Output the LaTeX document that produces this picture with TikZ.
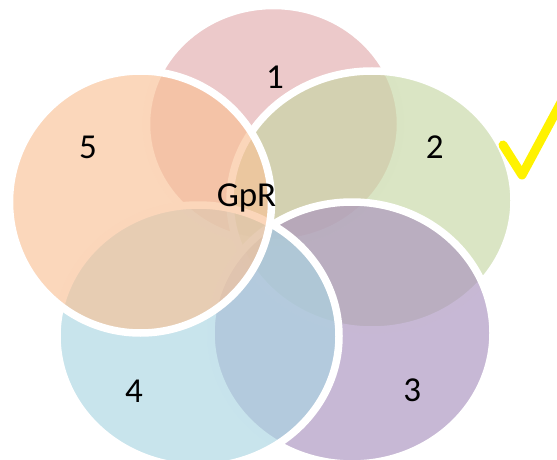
\documentclass[tikz,border=0pt]{standalone}
\usepackage{fontspec}
\setmainfont{Carlito}
\definecolor{petalone}{RGB}{226,172,173}
\definecolor{petaltwo}{RGB}{198,215,164}
\definecolor{petalthree}{RGB}{169,146,190}
\definecolor{petalfour}{RGB}{170,213,226}
\definecolor{petalfive}{RGB}{249,193,150}
\begin{document}
\begin{tikzpicture}[x=1pt,y=-1pt,
  every node/.style={font=\fontsize{35}{42}\selectfont,anchor=base,inner sep=0pt},
  petal/.style={draw=white,line width=7.5pt,fill opacity=0.65}]
  \useasboundingbox (0,0) rectangle (557,460);
  \clip (0,0) rectangle (557,460);
  % petals, drawn in turn so the later ones lie on top
  \filldraw[petal,fill=petalone] (273.5,124) ellipse [x radius=127pt,y radius=118.5pt];
  \filldraw[petal,fill=petaltwo] (372,200.5) ellipse [x radius=142pt,y radius=129.5pt];
  \filldraw[petal,fill=petalthree] (352,333) ellipse [x radius=141pt,y radius=131pt];
  \filldraw[petal,fill=petalfour] (198,336) ellipse [x radius=141pt,y radius=131pt];
  \filldraw[petal,fill=petalfive] (140.5,202) ellipse [x radius=131pt,y radius=131pt];
  % labels
  \node (one) at (275,88.3) {1};
  \node (two) at (434.7,158.3) {2};
  \node (three) at (412.3,401.7) {3};
  \node (four) at (134,402.7) {4};
  \node (five) at (88,158.3) {5};
  \node (gpr) at (246.5,206.5) {GpR};
  % tick
  \draw[yellow,line width=9pt,line cap=round,line join=round] (503,145) -- (522,175) -- (572,82);
\end{tikzpicture}
\end{document}
